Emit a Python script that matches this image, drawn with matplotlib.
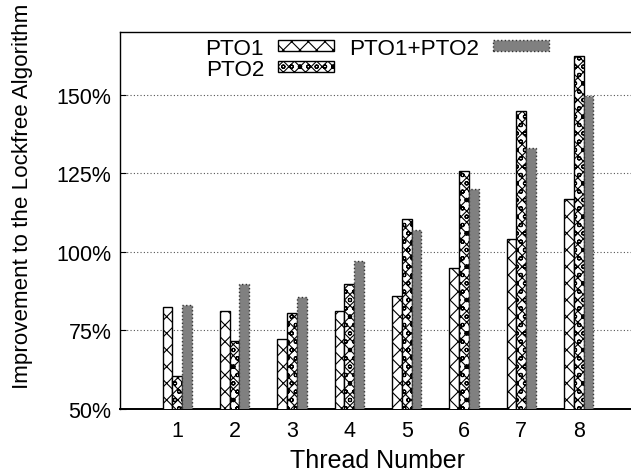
import matplotlib
matplotlib.use("Agg")

import numpy as np
import matplotlib.pyplot as plt
import matplotlib.ticker as ticker

# ── Data ─────────────────────────────────────────────────────────────────────
threads = [1, 2, 3, 4, 5, 6, 7, 8]
pto1 = [82.3, 81.2, 72.3, 81.2, 85.8, 94.8, 104.0, 116.9]
pto2 = [60.6, 71.6, 80.5, 89.9, 110.6, 125.7, 144.8, 162.3]
pto12 = [83.1, 89.7, 85.7, 97.2, 106.9, 120.0, 133.0, 149.5]
yticks = [50, 75, 100, 125, 150]

BAR_W = 0.17
FONT = "Liberation Sans"

plt.rcParams["font.family"] = [FONT, "DejaVu Sans"]
plt.rcParams["hatch.linewidth"] = 0.8

fig = plt.figure(figsize=(6.31, 4.77), dpi=100)
ax = fig.add_axes([0.190, 0.1405, 0.818, 0.7905])

x = np.array(threads, dtype=float)
ax.bar(x - BAR_W, pto1, width=BAR_W, facecolor="white",
       edgecolor="black", hatch="xx", linewidth=1.0, label="PTO1", zorder=3)
ax.bar(x, pto2, width=BAR_W, facecolor="white", edgecolor="black",
       hatch="xxxoo", linewidth=1.0, label="PTO2", zorder=3)
ax.bar(x + BAR_W, pto12, width=BAR_W, facecolor="#808080",
       edgecolor="#333333", linestyle=":", linewidth=1.0,
       label="PTO1+PTO2", zorder=3)

ax.set_xlim(0, 9)
ax.set_ylim(50, 170)
ax.set_xticks(threads)
ax.set_xticklabels([str(t) for t in threads], fontsize=15.5)
ax.tick_params(axis="x", length=0, pad=8)
ax.set_yticks(yticks)
ax.yaxis.set_major_formatter(ticker.FuncFormatter(lambda v, p: f"{v:.0f}%"))
ax.tick_params(axis="y", direction="in", length=4, labelsize=15.5, pad=6)

ax.grid(axis="y", linestyle=(0, (1, 2)), color="#555555", linewidth=0.8, zorder=0)
for s in ["top", "left", "bottom"]:
    ax.spines[s].set_linewidth(1.0)
ax.spines["bottom"].set_linewidth(1.4)
ax.spines["right"].set_visible(False)

ax.set_xlabel("Thread Number", fontsize=18, labelpad=5)
fig.text(23 / 631, 1 - 196 / 477, "Improvement to the Lockfree Algorithm",
         rotation=90, ha="center", va="center", fontsize=16.1)

leg = ax.legend(ncol=2, frameon=False, markerfirst=False, fontsize=16.2,
                loc="upper right", bbox_to_anchor=(0.832, 0.985),
                borderaxespad=0, borderpad=0, handlelength=2.5,
                handleheight=0.4, handletextpad=0.6, columnspacing=0.7,
                labelspacing=0.0)

fig.savefig("out.png", dpi=100)
